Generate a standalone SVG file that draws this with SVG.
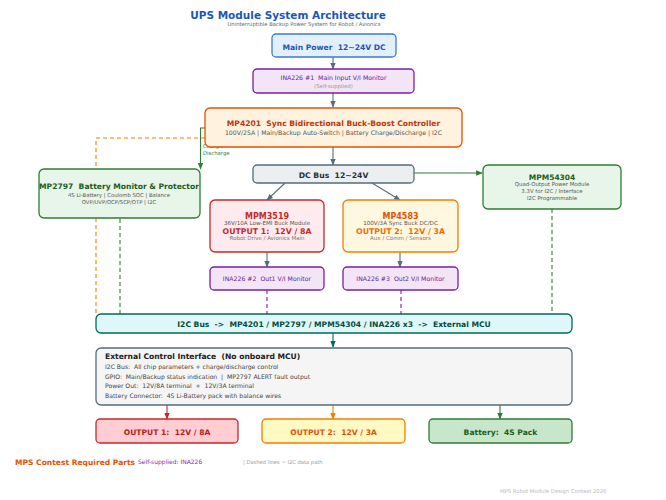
<svg xmlns="http://www.w3.org/2000/svg" width="666" height="500" viewBox="0 0 666 500" xml:space="preserve">
<style>
text{font-family:"DejaVu Sans","Liberation Sans",sans-serif;white-space:pre}
.b{font-weight:bold}
.m{text-anchor:middle}
.g{fill:#555}
.box{stroke-width:1.3}
.ln{fill:none;stroke-width:1.1}
</style>
<defs>
<marker id="aG" viewBox="0 0 10 10" refX="9" refY="5" markerWidth="6" markerHeight="6" orient="auto"><path d="M0,1 L10,5 L0,9 z" fill="#546e7a"/></marker>
<marker id="aGr" viewBox="0 0 10 10" refX="9" refY="5" markerWidth="6" markerHeight="6" orient="auto"><path d="M0,1 L10,5 L0,9 z" fill="#2e7d32"/></marker>
<marker id="aT" viewBox="0 0 10 10" refX="9" refY="5" markerWidth="6" markerHeight="6" orient="auto"><path d="M0,1 L10,5 L0,9 z" fill="#00695c"/></marker>
<marker id="aR" viewBox="0 0 10 10" refX="9" refY="5" markerWidth="6" markerHeight="6" orient="auto"><path d="M0,1 L10,5 L0,9 z" fill="#c62828"/></marker>
<marker id="aO" viewBox="0 0 10 10" refX="9" refY="5" markerWidth="6" markerHeight="6" orient="auto"><path d="M0,1 L10,5 L0,9 z" fill="#f57c00"/></marker>
</defs>
<rect width="666" height="500" fill="#ffffff"/>
<text x="288" y="19" class="b m" font-size="10.5" fill="#1a56b8">UPS Module System Architecture</text>
<text x="304" y="25.5" class="m" font-size="5.3" fill="#666">Uninterruptible Backup Power System for Robot / Avionics</text>
<g id="connectors">
<line x1="333" y1="57" x2="333" y2="69" class="ln" stroke="#546e7a" marker-end="url(#aG)"/>
<line x1="333" y1="93" x2="333" y2="107" class="ln" stroke="#546e7a" marker-end="url(#aG)"/>
<line x1="333" y1="147" x2="333" y2="165" class="ln" stroke="#546e7a" marker-end="url(#aG)"/>
<line x1="414" y1="173" x2="482" y2="173" class="ln" stroke="#2e7d32" marker-end="url(#aGr)"/>
<line x1="285" y1="183" x2="267" y2="200" class="ln" stroke="#546e7a" marker-end="url(#aG)"/>
<line x1="372" y1="183" x2="400" y2="200" class="ln" stroke="#546e7a" marker-end="url(#aG)"/>
<line x1="267" y1="252" x2="267" y2="267" class="ln" stroke="#546e7a" marker-end="url(#aG)"/>
<line x1="400" y1="252" x2="400" y2="267" class="ln" stroke="#546e7a" marker-end="url(#aG)"/>
<polyline points="205,128 200.5,128 200.5,169" class="ln" stroke="#2e7d32" stroke-width="1.3" marker-end="url(#aGr)"/>
<polyline points="205,138 96,138 96,314" class="ln" stroke="#f57c00" stroke-dasharray="4,3"/>
<line x1="120" y1="219" x2="120" y2="314" class="ln" stroke="#2e7d32" stroke-dasharray="4,3"/>
<line x1="552" y1="209" x2="552" y2="314" class="ln" stroke="#2e7d32" stroke-dasharray="4,3"/>
<line x1="267" y1="290" x2="267" y2="314" class="ln" stroke="#7b1fa2" stroke-dasharray="4,3"/>
<line x1="401" y1="290" x2="401" y2="314" class="ln" stroke="#7b1fa2" stroke-dasharray="4,3"/>
<line x1="333" y1="333" x2="333" y2="347" class="ln" stroke="#00695c" marker-end="url(#aT)"/>
<line x1="167" y1="405" x2="167" y2="419" class="ln" stroke="#c62828" marker-end="url(#aR)"/>
<line x1="333" y1="405" x2="333" y2="419" class="ln" stroke="#f57c00" marker-end="url(#aO)"/>
<line x1="500" y1="405" x2="500" y2="419" class="ln" stroke="#2e7d32" marker-end="url(#aGr)"/>
<text x="203" y="148" font-size="5.3" fill="#2e7d32">Charge/</text>
<text x="203" y="155" font-size="5.3" fill="#2e7d32">Discharge</text>
</g>
<g id="main-power">
<rect x="272" y="34" width="124" height="23" rx="4" class="box" fill="#e3f0fc" stroke="#3a7bd5"/>
<text x="334" y="50" class="b m" font-size="7.6" fill="#1a56b8">Main Power  12~24V DC</text>
</g>
<g id="ina226-1">
<rect x="253" y="69" width="161" height="24" rx="4" class="box" fill="#f3e5f5" stroke="#7b1fa2"/>
<text x="333.5" y="79.5" class="m" font-size="6.2" fill="#6a1b9a">INA226 #1  Main Input V/I Monitor</text>
<text x="333.5" y="87.5" class="m" font-size="5.4" fill="#999">(Self-supplied)</text>
</g>
<g id="mp4201">
<rect x="205" y="108" width="257" height="39" rx="5" class="box" fill="#fff3e0" stroke="#e65100"/>
<text x="333.5" y="125.5" class="b m" font-size="7.6" fill="#bf360c">MP4201  Sync Bidirectional Buck-Boost Controller</text>
<text x="333.5" y="134.5" class="m g" font-size="6.2">100V/25A | Main/Backup Auto-Switch | Battery Charge/Discharge | I2C</text>
</g>
<g id="dc-bus">
<rect x="253" y="165" width="161" height="18" rx="4" class="box" fill="#eceff1" stroke="#546e7a"/>
<text x="333.5" y="177.5" class="b m" font-size="7.7" fill="#263238">DC Bus  12~24V</text>
</g>
<g id="mp2797">
<rect x="39" y="169" width="161" height="49" rx="5" class="box" fill="#e8f5e9" stroke="#2e7d32"/>
<text x="119" y="188.5" class="b m" font-size="7.6" fill="#1b5e20">MP2797  Battery Monitor &amp; Protector</text>
<text x="119" y="196.5" class="m g" font-size="5.3">4S Li-Battery | Coulomb SOC | Balance</text>
<text x="119" y="204" class="m g" font-size="5.3">OVP/UVP/OCP/SCP/OTP | I2C</text>
</g>
<g id="mpm54304">
<rect x="483" y="165" width="138" height="44" rx="5" class="box" fill="#e8f5e9" stroke="#2e7d32"/>
<text x="552" y="180" class="b m" font-size="7.5" fill="#1b5e20">MPM54304</text>
<text x="552" y="186" class="m g" font-size="5.4">Quad-Output Power Module</text>
<text x="552" y="193" class="m g" font-size="5.4">3.3V for I2C / Interface</text>
<text x="552" y="200" class="m g" font-size="5.4">I2C Programmable</text>
</g>
<g id="mpm3519">
<rect x="210" y="200" width="114" height="52" rx="5" class="box" fill="#ffebee" stroke="#c62828"/>
<text x="267" y="219" class="b m" font-size="8" fill="#c62828">MPM3519</text>
<text x="267" y="225" class="m g" font-size="5.6">36V/10A Low-EMI Buck Module</text>
<text x="267" y="234" class="b m" font-size="7.8" fill="#c62828">OUTPUT 1:  12V / 8A</text>
<text x="267" y="240" class="m" font-size="5.5" fill="#777">Robot Drive / Avionics Main</text>
</g>
<g id="mp4583">
<rect x="343" y="200" width="115" height="52" rx="5" class="box" fill="#fff8e1" stroke="#f57c00"/>
<text x="400.5" y="219" class="b m" font-size="8" fill="#e65100">MP4583</text>
<text x="400.5" y="225" class="m g" font-size="5.6">100V/3A Sync Buck DC/DC</text>
<text x="400.5" y="234" class="b m" font-size="7.8" fill="#ef6c00">OUTPUT 2:  12V / 3A</text>
<text x="400.5" y="240" class="m" font-size="5.5" fill="#777">Aux / Comm / Sensors</text>
</g>
<g id="ina226-2">
<rect x="210" y="267" width="114" height="23" rx="4" class="box" fill="#f3e5f5" stroke="#7b1fa2"/>
<text x="267" y="280.5" class="m" font-size="6.2" fill="#6a1b9a">INA226 #2  Out1 V/I Monitor</text>
</g>
<g id="ina226-3">
<rect x="343" y="267" width="115" height="23" rx="4" class="box" fill="#f3e5f5" stroke="#7b1fa2"/>
<text x="400.5" y="280.5" class="m" font-size="6.2" fill="#6a1b9a">INA226 #3  Out2 V/I Monitor</text>
</g>
<g id="i2c-bus">
<rect x="96" y="314" width="476" height="19" rx="5" class="box" fill="#e0f7fa" stroke="#00695c"/>
<text x="334" y="327" class="b m" font-size="7.6" fill="#004d40">I2C Bus  -&gt;  MP4201 / MP2797 / MPM54304 / INA226 x3  -&gt;  External MCU</text>
</g>
<g id="external-control">
<rect x="96" y="348" width="476" height="57" rx="5" class="box" fill="#f5f5f5" stroke="#546e7a"/>
<text x="105" y="359" class="b" font-size="7.6" fill="#212121">External Control Interface  (No onboard MCU)</text>
<text x="105" y="369" font-size="6.1" fill="#444">I2C Bus:  All chip parameters + charge/discharge control</text>
<text x="105" y="378.5" font-size="6.1" fill="#444">GPIO:  Main/Backup status indication  |  MP2797 ALERT fault output</text>
<text x="105" y="388" font-size="6.1" fill="#444">Power Out:  12V/8A terminal  +  12V/3A terminal</text>
<text x="105" y="397.5" font-size="6.1" fill="#444">Battery Connector:  4S Li-Battery pack with balance wires</text>
</g>
<g id="output-1">
<rect x="96" y="419" width="142" height="24" rx="4" class="box" fill="#ffcdd2" stroke="#c62828"/>
<text x="167" y="434.5" class="b m" font-size="7.6" fill="#b71c1c">OUTPUT 1:  12V / 8A</text>
</g>
<g id="output-2">
<rect x="262" y="419" width="143" height="24" rx="4" class="box" fill="#fff9c4" stroke="#f57c00"/>
<text x="333.5" y="434.5" class="b m" font-size="7.6" fill="#e65100">OUTPUT 2:  12V / 3A</text>
</g>
<g id="battery">
<rect x="429" y="419" width="143" height="24" rx="4" class="box" fill="#c8e6c9" stroke="#2e7d32"/>
<text x="500.5" y="434.5" class="b m" font-size="7.6" fill="#1b5e20">Battery:  4S Pack</text>
</g>
<g id="legend">
<text x="15" y="464.5" class="b" font-size="7.55" fill="#e65100">MPS Contest Required Parts</text>
<text x="138" y="464" font-size="6" fill="#8e24aa">Self-supplied: INA226</text>
<text x="243" y="463.5" font-size="5.2" fill="#999">| Dashed lines = I2C data path</text>
<text x="500" y="493" font-size="5.3" fill="#bbb">MPS Robot Module Design Contest 2026</text>
</g>
</svg>
